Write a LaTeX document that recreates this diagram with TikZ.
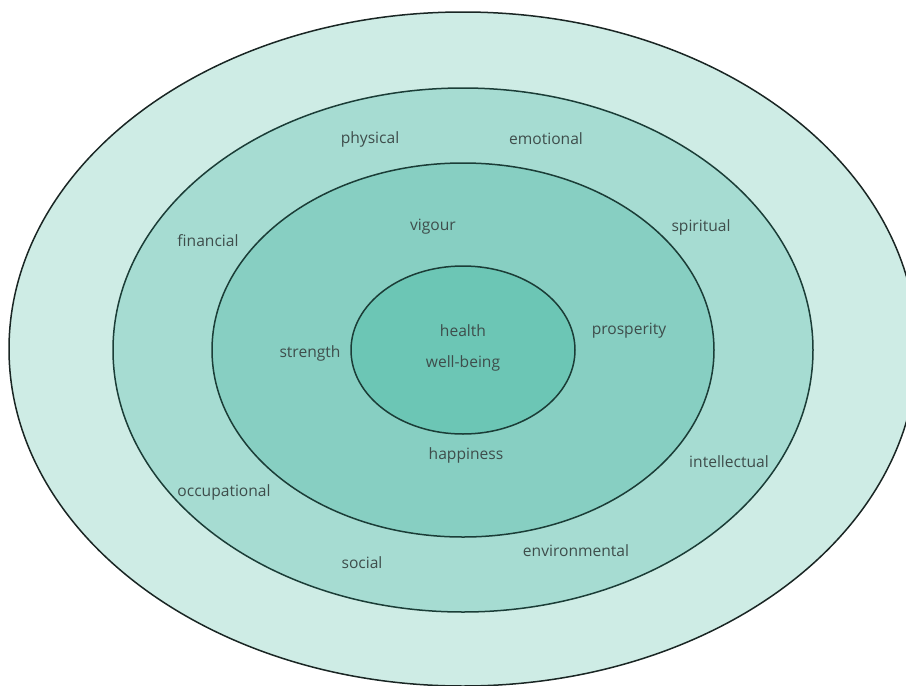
\documentclass[tikz,border=0pt]{standalone}
\usepackage{fontspec}
\setmainfont{Open Sans}
\definecolor{ringA}{HTML}{CEECE5}
\definecolor{ringB}{HTML}{A6DCD2}
\definecolor{ringC}{HTML}{87CFC2}
\definecolor{ringD}{HTML}{6CC6B5}
\definecolor{edgeA}{HTML}{1A2624}
\definecolor{edgeB}{HTML}{1B3D37}
\definecolor{labelgray}{HTML}{3E4D4B}
\tikzset{
  ring/.style={line width=1.5pt},
  lbl/.style={font=\fontsize{15.6}{18}\selectfont, text=labelgray, inner sep=0pt}
}
\begin{document}
\begin{tikzpicture}[x=1pt,y=-1pt]
   \useasboundingbox (0,0) rectangle (906,686);
   % rings, outside in
   \draw[ring,fill=ringA,draw=edgeA] (463,349) ellipse [x radius=454, y radius=337];
   \draw[ring,fill=ringB,draw=edgeB] (463,350) ellipse [x radius=350, y radius=262];
   \draw[ring,fill=ringC,draw=edgeB] (463,350) ellipse [x radius=251, y radius=187];
   \draw[ring,fill=ringD,draw=edgeB] (463,350) ellipse [x radius=112, y radius=84];
   % centre
   \node[lbl] (health) at (463,331) {health};
   \node[lbl] (wellbeing) at (463,363) {well-being};
   % third ring
   \node[lbl] (vigour) at (433,227) {vigour};
   \node[lbl] (prosperity) at (629,331) {prosperity};
   \node[lbl] (strength) at (310,353) {strength};
   \node[lbl] (happiness) at (466,455) {happiness};
   % second ring
   \node[lbl] (physical) at (370,139) {physical};
   \node[lbl] (emotional) at (546,139) {emotional};
   \node[lbl] (financial) at (208,241) {financial};
   \node[lbl] (spiritual) at (701,227) {spiritual};
   \node[lbl] (intellectual) at (729,462) {intellectual};
   \node[lbl] (occupational) at (224,492) {occupational};
   \node[lbl] (social) at (362,563) {social};
   \node[lbl] (environmental) at (576,551) {environmental};
\end{tikzpicture}
\end{document}
